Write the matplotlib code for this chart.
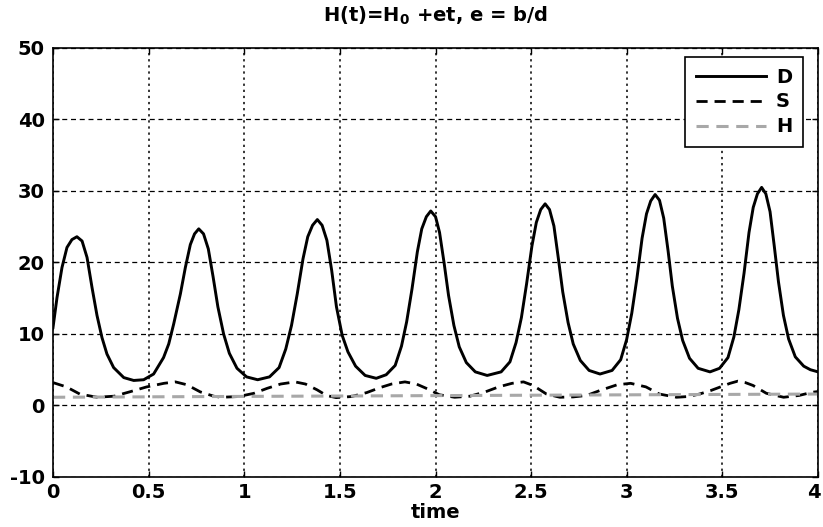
import matplotlib as mpl
import matplotlib.pyplot as plt
import matplotlib.transforms as mtransforms
import numpy as np

mpl.rcParams['font.family'] = ['DejaVu Sans']
mpl.rcParams['axes.unicode_minus'] = False
mpl.rcParams['mathtext.default'] = 'bf'

# D(t)
t_d = [0.0, 0.021, 0.047, 0.073, 0.099, 0.125, 0.152, 0.178, 0.204, 0.23, 0.256, 0.282, 0.317, 0.37, 0.422,
       0.474, 0.526, 0.578, 0.605, 0.631, 0.666, 0.692, 0.718, 0.74, 0.762,
       0.787, 0.812, 0.837, 0.862, 0.892, 0.922, 0.962, 1.012, 1.07,
       1.132, 1.182, 1.217, 1.247, 1.277, 1.307, 1.332, 1.357, 1.382,
       1.407, 1.432, 1.457, 1.482, 1.512, 1.542, 1.582, 1.632, 1.69,
       1.742, 1.789, 1.822, 1.849, 1.877, 1.905, 1.928, 1.952, 1.975,
       2.0, 2.021, 2.045, 2.068, 2.096, 2.124, 2.161, 2.208, 2.27,
       2.343, 2.389, 2.421, 2.449, 2.476, 2.504, 2.527, 2.55, 2.573,
       2.596, 2.619, 2.642, 2.665, 2.693, 2.72, 2.757, 2.803, 2.86,
       2.923, 2.968, 2.999, 3.026, 3.053, 3.08, 3.103, 3.125, 3.148,
       3.171, 3.193, 3.216, 3.238, 3.265, 3.292, 3.328, 3.373, 3.435,
       3.485, 3.529, 3.56, 3.586, 3.613, 3.639, 3.661, 3.683, 3.705,
       3.727, 3.749, 3.771, 3.793, 3.819, 3.846, 3.881, 3.925, 3.96, 4.0]
D = [10.9, 15.1, 19.3, 22.1, 23.2, 23.6, 23.0, 20.7, 16.5, 12.6, 9.5, 7.2, 5.3, 3.9, 3.5,
     3.6, 4.4, 6.7, 8.6, 11.4, 15.6, 19.3, 22.5, 24.0, 24.7,
     24.0, 21.9, 18.0, 13.8, 10.0, 7.3, 5.2, 4.0, 3.6,
     4.0, 5.3, 7.9, 11.2, 15.6, 20.5, 23.6, 25.2, 26.0,
     25.2, 23.1, 18.9, 13.8, 9.8, 7.5, 5.5, 4.2, 3.8,
     4.3, 5.6, 8.3, 11.7, 16.3, 21.5, 24.7, 26.4, 27.2,
     26.4, 24.2, 19.9, 15.4, 11.2, 8.2, 6.0, 4.7, 4.2,
     4.7, 6.1, 8.8, 12.3, 17.0, 22.3, 25.6, 27.4, 28.2,
     27.4, 25.1, 20.6, 15.9, 11.6, 8.6, 6.3, 4.9, 4.4,
     4.9, 6.4, 9.2, 12.9, 17.8, 23.4, 26.8, 28.6, 29.5,
     28.7, 26.2, 21.6, 16.7, 12.2, 9.1, 6.6, 5.2, 4.7,
     5.2, 6.7, 9.6, 13.4, 18.5, 24.2, 27.7, 29.6, 30.5,
     29.6, 27.1, 22.3, 17.3, 12.6, 9.3, 6.8, 5.5, 5.0, 4.7]

# S(t)
t_s = [0.0, 0.07, 0.14, 0.23, 0.32, 0.40, 0.49, 0.58, 0.64, 0.70, 0.77, 0.84, 0.88,
       0.97, 1.05, 1.12, 1.19, 1.265, 1.32, 1.38, 1.43, 1.48,
       1.56, 1.64, 1.71, 1.77, 1.84, 1.90, 1.96, 2.02, 2.10,
       2.18, 2.26, 2.33, 2.40, 2.46, 2.51, 2.58, 2.65,
       2.72, 2.79, 2.86, 2.95, 3.02, 3.10, 3.17, 3.26,
       3.32, 3.38, 3.44, 3.49, 3.54, 3.58, 3.62, 3.66, 3.73, 3.82, 3.90, 3.97, 4.0]
S = [3.2, 2.6, 1.6, 1.15, 1.3, 1.9, 2.6, 3.1, 3.3, 2.9, 1.9, 1.3, 1.15,
     1.25, 1.7, 2.4, 3.0, 3.3, 3.0, 2.2, 1.4, 1.1,
     1.25, 1.8, 2.5, 3.0, 3.3, 3.0, 2.3, 1.5, 1.15,
     1.3, 1.9, 2.6, 3.1, 3.3, 2.8, 1.6, 1.15,
     1.2, 1.4, 2.1, 2.9, 3.1, 2.6, 1.6, 1.15,
     1.25, 1.6, 2.1, 2.6, 3.1, 3.4, 3.2, 2.8, 1.7, 1.15, 1.4, 1.85, 1.95]

# H(t) = H0 + e t
t_h = [0, 1, 2, 3, 4]
H = [1.15, 1.27, 1.38, 1.49, 1.6]

xticks = [0, 0.5, 1, 1.5, 2, 2.5, 3, 3.5, 4]
xticklabels = ['0', '0.5', '1', '1.5', '2', '2.5', '3', '3.5', '4']
yticks = [-10, 0, 10, 20, 30, 40, 50]

fig = plt.figure(figsize=(8.23, 5.27), dpi=100)
ax = fig.add_axes([0.0644, 0.0949, 0.9296, 0.8141])

ax.plot(t_d, D, color='black', lw=2.1, label='D')
ax.plot(t_s, S, color='black', lw=2.0, ls=(0, (4, 2.5)), label='S')
ax.plot(t_h, H, color='#a8a8a8', lw=2.2, ls=(0, (4, 2.5)), label='H')

ax.set_xlim(0, 4)
ax.set_ylim(-10, 50)
ax.set_xticks(xticks, xticklabels)
ax.set_yticks(yticks)

# vertical grid dotted, horizontal grid dashed (like the original)
ax.xaxis.grid(True, ls=(0, (1.5, 2.5)), color='black', lw=1.1)
ax.yaxis.grid(True, ls=(0, (4, 3)), color='black', lw=0.9)

ax.tick_params(direction='in', length=4, width=1, labelsize=14, top=True, right=True)
ax.tick_params(axis='x', pad=4)
ax.tick_params(axis='y', pad=6)
for lab in ax.get_xticklabels() + ax.get_yticklabels():
    lab.set_fontweight('bold')
# last x label sits at the figure edge: keep it inside
last = ax.get_xticklabels()[-1]
last.set_horizontalalignment('right')
last.set_transform(last.get_transform() + mtransforms.ScaledTranslation(3 / 100, 0, fig.dpi_scale_trans))
for sp in ax.spines.values():
    sp.set_linewidth(1.2)

ax.set_xlabel('time', fontsize=14, fontweight='bold', labelpad=1)
ax.set_title('H(t)=H$_0$ +et, e = b/d', fontsize=14, fontweight='bold', pad=19)

leg = ax.legend(loc='upper right', bbox_to_anchor=(0.980, 0.979), borderaxespad=0,
                fontsize=14, handlelength=3.6, handletextpad=0.5, borderpad=0.55,
                labelspacing=0.3, frameon=True, fancybox=False, framealpha=1)
leg.get_frame().set_edgecolor('black')
leg.get_frame().set_linewidth(1.2)
for txt in leg.get_texts():
    txt.set_fontweight('bold')

plt.savefig('out.png', dpi=100)
